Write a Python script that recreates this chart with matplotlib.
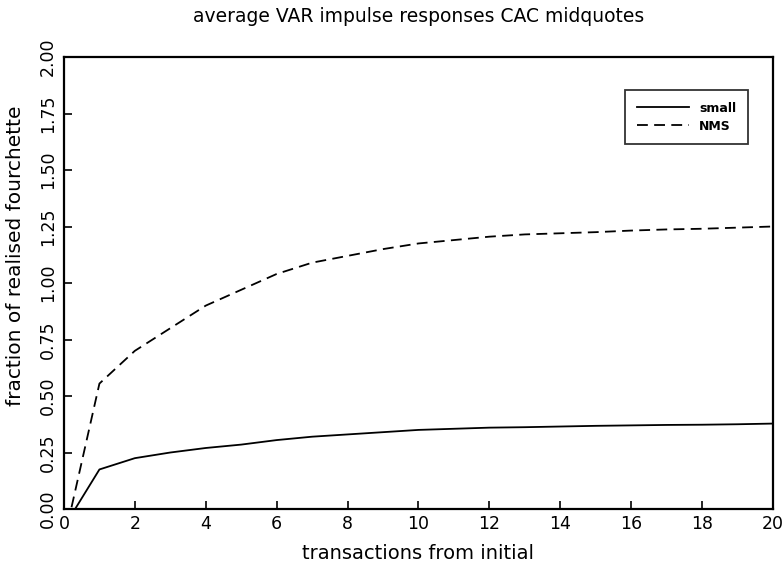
import matplotlib
matplotlib.use("Agg")
import matplotlib.pyplot as plt

x = list(range(0, 21))
small = [-0.08, 0.175, 0.225, 0.25, 0.27, 0.285, 0.305, 0.32, 0.33, 0.34, 0.35,
         0.355, 0.36, 0.362, 0.365, 0.368, 0.37, 0.372, 0.373, 0.375, 0.378]
nms = [-0.14, 0.555, 0.70, 0.80, 0.90, 0.97, 1.04, 1.09, 1.12, 1.15, 1.175,
       1.19, 1.205, 1.215, 1.22, 1.225, 1.232, 1.237, 1.24, 1.245, 1.25]
xticks = [0, 2, 4, 6, 8, 10, 12, 14, 16, 18, 20]
yticks = [0.0, 0.25, 0.5, 0.75, 1.0, 1.25, 1.5, 1.75, 2.0]
ytick_labels = ["0.00", "0.25", "0.50", "0.75", "1.00", "1.25", "1.50", "1.75", "2.00"]

plt.rcParams['font.family'] = ['DejaVu Sans']
fig = plt.figure(figsize=(7.84, 5.70), dpi=100)
ax = fig.add_axes([0.0816, 0.107, 0.9043, 0.793])

ax.plot(x, small, color='black', lw=1.3, label='small')
ax.plot(x, nms, color='black', lw=1.3, ls=(0, (6, 3.5)), label='NMS')

ax.set_xlim(0, 20)
ax.set_ylim(0, 2.0)
ax.set_xticks(xticks)
ax.set_xticklabels([str(t) for t in xticks])
ax.set_yticks(yticks)
ax.set_yticklabels(ytick_labels, rotation=90, va='center')
ax.tick_params(direction='in', length=6, width=1.2, labelsize=12.5)
ax.tick_params(axis='x', pad=4)
ax.tick_params(axis='y', pad=5)
for s in ax.spines.values():
    s.set_linewidth(1.6)

ax.set_title('average VAR impulse responses CAC midquotes', fontsize=13.5, pad=25)
ax.set_xlabel('transactions from initial', fontsize=14, labelpad=8)
ax.set_ylabel('fraction of realised fourchette', fontsize=14.5, va='center')
ax.yaxis.set_label_coords(-0.069, 0.56)

leg = ax.legend(loc='upper right', bbox_to_anchor=(0.973, 0.94),
                prop={'size': 9, 'weight': 'bold'},
                frameon=True, fancybox=False, edgecolor='black',
                handlelength=4.2, borderpad=0.9, labelspacing=0.4)
leg.get_frame().set_linewidth(1.3)

fig.savefig('out.png', dpi=100)
